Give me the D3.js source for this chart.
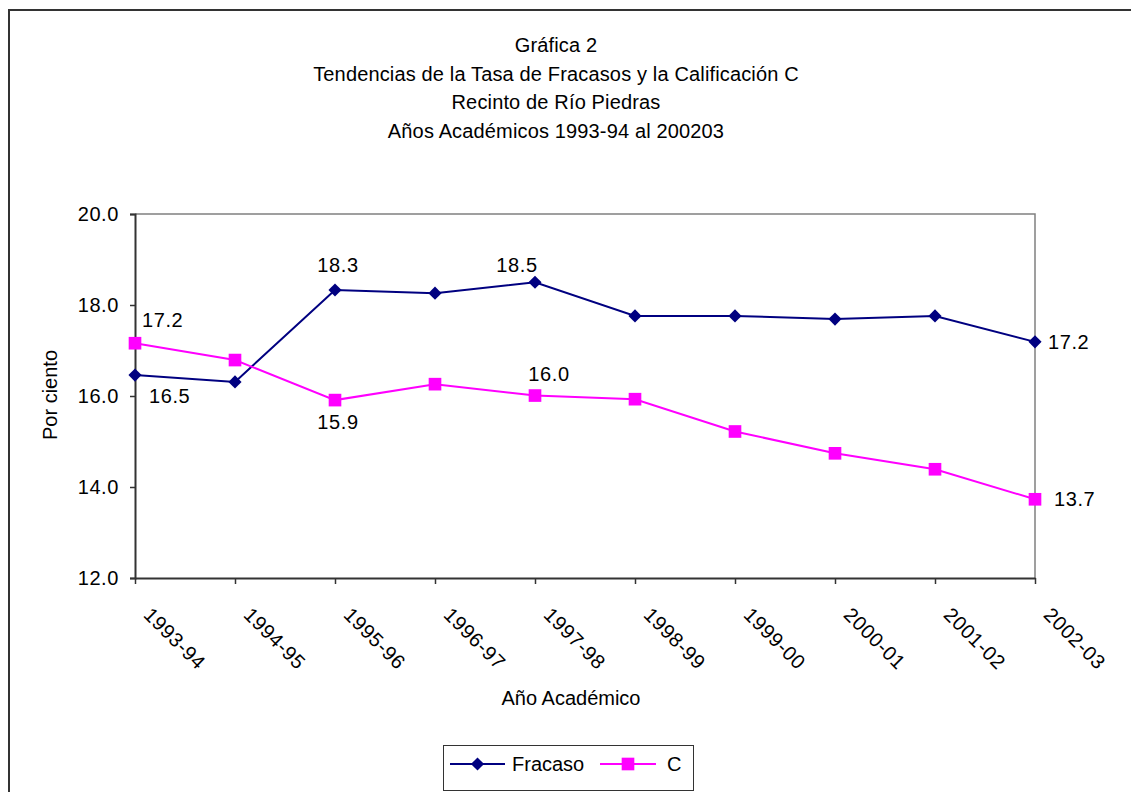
<!DOCTYPE html>
<html>
<head>
<meta charset="utf-8">
<script src="https://cdn.jsdelivr.net/npm/d3@7"></script>
<style>
  html, body { margin: 0; padding: 0; background: #fff; }
  svg { display: block; }
  text { font-family: "Liberation Sans", Arial, sans-serif; fill: #000; }
</style>
</head>
<body>
<svg id="chart" width="1131" height="792"></svg>
<script>
// ---- data ----
const categories = ["1993-94","1994-95","1995-96","1996-97","1997-98","1998-99","1999-00","2000-01","2001-02","2002-03"];
const fracaso = [16.46, 16.31, 18.33, 18.26, 18.50, 17.76, 17.76, 17.69, 17.76, 17.19];
const calC    = [17.16, 16.79, 15.91, 16.26, 16.01, 15.93, 15.22, 14.74, 14.39, 13.73];
const yTicks = [12, 14, 16, 18, 20];
const titleLines = ["Gráfica 2", "Tendencias de la Tasa de Fracasos y la Calificación C", "Recinto de Río Piedras", "Años Académicos 1993-94 al 200203"];
const seriesNames = ["Fracaso", "C"];
const yTitle = "Por ciento";
const xTitle = "Año Académico";
// which points carry a data label
const fracasoLabelIdx = [0, 2, 4, 9];
const cLabelIdx = [0, 2, 4, 9];

// ---- layout ----
const svg = d3.select("#chart");
const plot = { left: 135, right: 1035, top: 214, bottom: 578 };
const navy = "#000080", magenta = "#FF00FF";
const fs = 20;
const numSpacing = "0.6px";

const x = d3.scalePoint().domain(categories).range([plot.left, plot.right]);
const y = d3.scaleLinear().domain([12, 20]).range([plot.bottom, plot.top]);

// outer frame
svg.append("rect").attr("x", 9).attr("y", 10).attr("width", 1140).attr("height", 800)
  .attr("fill", "none").attr("stroke", "#333").attr("stroke-width", 2);

// title
const titleY = [52, 81, 109, 138];
svg.append("g").selectAll("text").data(titleLines).join("text")
  .attr("x", 556).attr("y", (d, i) => titleY[i])
  .attr("text-anchor", "middle").attr("font-size", fs).attr("letter-spacing", "0.15px").text(d => d);

// plot frame top/right (gray)
svg.append("path")
  .attr("d", `M${plot.left},${plot.top}H${plot.right}V${plot.bottom}`)
  .attr("fill", "none").attr("stroke", "#808080").attr("stroke-width", 1.5);

// y axis
const yAxis = d3.axisLeft(y).tickValues(yTicks).tickFormat(d3.format(".1f")).tickSize(5).tickPadding(11);
const gy = svg.append("g").attr("transform", `translate(${plot.left},0)`).call(yAxis);
gy.select(".domain").attr("stroke", "#333").attr("stroke-width", 2);
gy.selectAll(".tick line").attr("stroke", "#333").attr("stroke-width", 1.5);
gy.selectAll(".tick text").attr("font-size", fs).attr("letter-spacing", numSpacing)
  .attr("font-family", "Liberation Sans, Arial, sans-serif").attr("fill", "#000");

// x axis
const xAxis = d3.axisBottom(x).tickSize(6).tickSizeOuter(0);
const gx = svg.append("g").attr("transform", `translate(0,${plot.bottom})`).call(xAxis);
gx.select(".domain").attr("stroke", "#333").attr("stroke-width", 2);
gx.selectAll(".tick line").attr("stroke", "#333").attr("stroke-width", 1.5);
gx.selectAll(".tick text")
  .attr("font-size", fs).attr("letter-spacing", numSpacing)
  .attr("font-family", "Liberation Sans, Arial, sans-serif").attr("fill", "#000")
  .attr("text-anchor", "start").attr("dy", null).attr("y", 0)
  .attr("transform", "translate(7,38) rotate(45)");

// axis titles
svg.append("text").attr("transform", `translate(57,395) rotate(-90)`)
  .attr("text-anchor", "middle").attr("font-size", fs).text(yTitle);
svg.append("text").attr("x", 571).attr("y", 705)
  .attr("text-anchor", "middle").attr("font-size", fs).text(xTitle);

// lines
const line = d3.line().x((d, i) => x(categories[i])).y(d => y(d));
svg.append("path").datum(fracaso).attr("d", line).attr("fill", "none").attr("stroke", navy).attr("stroke-width", 2);
svg.append("path").datum(calC).attr("d", line).attr("fill", "none").attr("stroke", magenta).attr("stroke-width", 2);

const diamond = d3.symbol().type(d3.symbolDiamond2).size(110);
const square = d3.symbol().type(d3.symbolSquare).size(160);

svg.append("g").selectAll("path").data(calC).join("path")
  .attr("d", square).attr("fill", magenta)
  .attr("transform", (d, i) => `translate(${x(categories[i])},${y(d)})`);
svg.append("g").selectAll("path").data(fracaso).join("path")
  .attr("d", diamond).attr("fill", navy)
  .attr("transform", (d, i) => `translate(${x(categories[i])},${y(d)})`);

// data labels (offsets relative to point: dx, dy, anchor)
const fmt = d3.format(".1f");
const fOff = { 0: [14, 28, "start"], 2: [3, -18, "middle"], 4: [-18, -10, "middle"], 9: [13, 7, "start"] };
const cOff = { 0: [7, -16, "start"], 2: [3, 29, "middle"], 4: [14, -15, "middle"], 9: [19, 7, "start"] };
function labels(vals, idx, off) {
  svg.append("g").selectAll("text").data(idx).join("text")
    .attr("x", i => x(categories[i]) + off[i][0])
    .attr("y", i => y(vals[i]) + off[i][1])
    .attr("text-anchor", i => off[i][2])
    .attr("font-size", fs).attr("letter-spacing", numSpacing)
    .text(i => fmt(vals[i]));
}
labels(fracaso, fracasoLabelIdx, fOff);
labels(calC, cLabelIdx, cOff);

// legend
const lg = svg.append("g");
lg.append("rect").attr("x", 443.5).attr("y", 745.5).attr("width", 250).attr("height", 45)
  .attr("fill", "#fff").attr("stroke", "#333").attr("stroke-width", 1);
const legY = 764;
const legItems = [
  { name: seriesNames[0], color: navy, sym: diamond, x0: 450, x1: 505, tx: 512 },
  { name: seriesNames[1], color: magenta, sym: square, x0: 600, x1: 656, tx: 667 }
];
legItems.forEach(it => {
  lg.append("line").attr("x1", it.x0).attr("x2", it.x1).attr("y1", legY).attr("y2", legY)
    .attr("stroke", it.color).attr("stroke-width", 2);
  lg.append("path").attr("d", it.sym).attr("fill", it.color)
    .attr("transform", `translate(${(it.x0 + it.x1) / 2},${legY})`);
  lg.append("text").attr("x", it.tx).attr("y", legY + 7).attr("font-size", fs).text(it.name);
});
</script>
</body>
</html>
